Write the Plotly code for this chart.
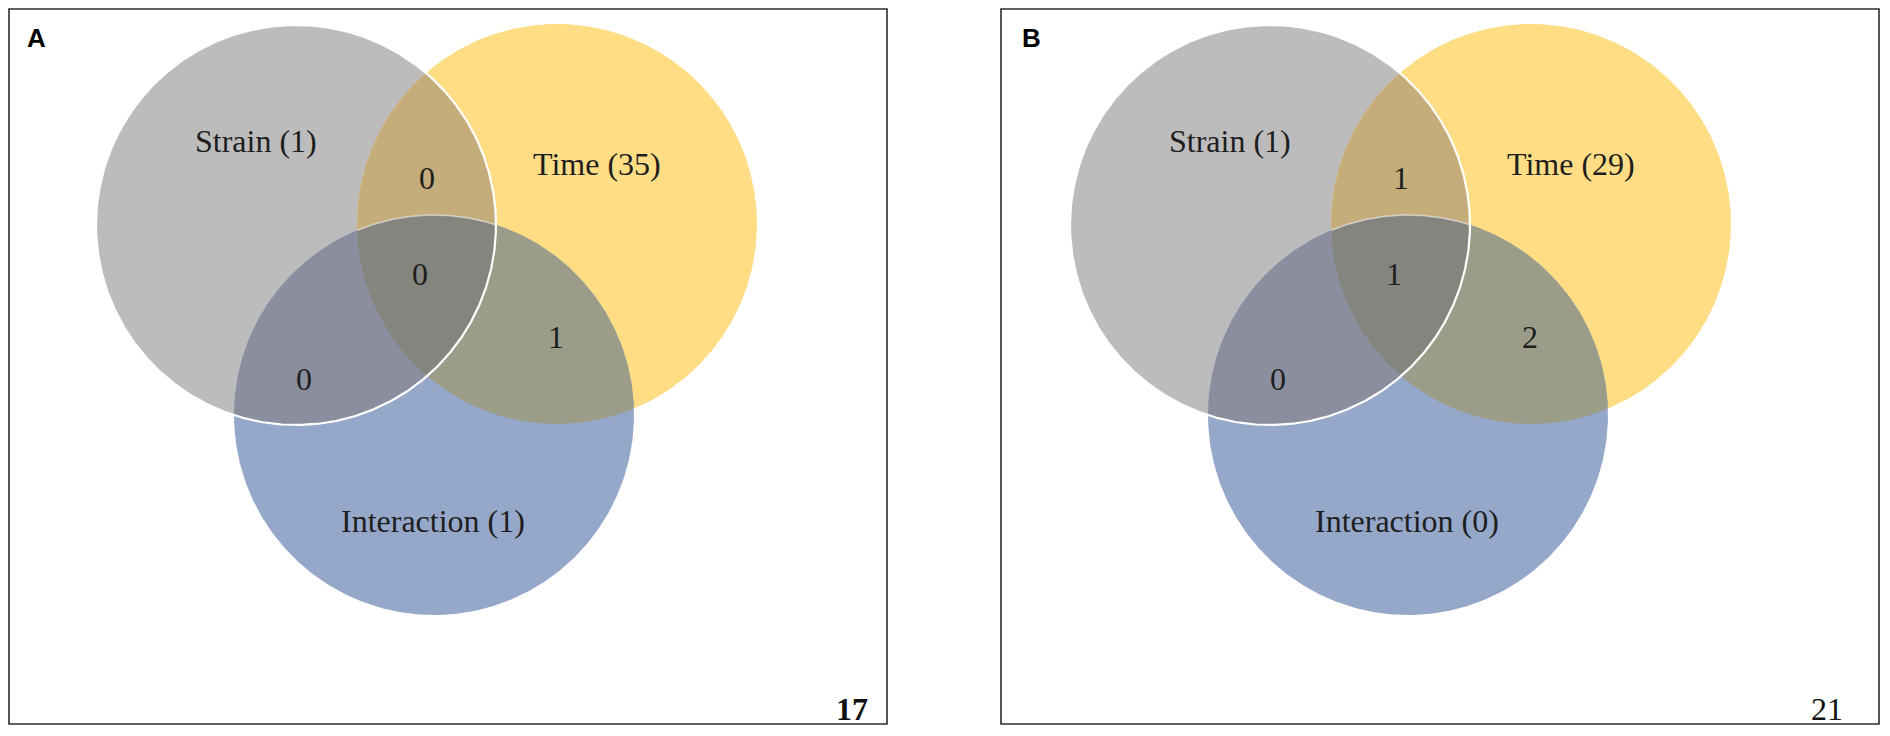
import numpy as np
import plotly.graph_objects as go

# ---------------- data ----------------
panel_letters = ["A", "B"]
set_names = ["Strain", "Time", "Interaction"]
totals_A = [1, 35, 1]          # Strain, Time, Interaction
totals_B = [1, 29, 0]
# region counts: S∩T only, S∩T∩I, T∩I only, S∩I only
pairs_A = [0, 0, 1, 0]
pairs_B = [1, 1, 2, 0]
outside_A = 17
outside_B = 21

# ---------------- layout (pixel geometry, y downward) ----------------
W, H = 1890, 736
R = 200
base_centers = [(296, 225), (557, 224), (434, 415)]          # S, T, I for panel A
label_pos = [(256, 141), (597, 164), (433, 521)]
region_pos = [(427, 178), (420, 274), (556, 337), (304, 379)]
outside_pos = (852, 709)
letter_pos = (36.5, 37.5)
panels = [
    dict(letter=panel_letters[0], totals=totals_A, regions=pairs_A, outside=outside_A,
         dx=0, box=(9, 9, 887, 724), ldx=0, bold_out=True),
    dict(letter=panel_letters[1], totals=totals_B, regions=pairs_B, outside=outside_B,
         dx=974, box=(1001, 9, 1879, 724), ldx=994.5, bold_out=False),
]

col_single = ["#bdbcbd", "#fedd85", "#95a8ca"]
col_ST = "#c4ad7a"
col_SI = "#8a8e9e"
col_TI = "#9b9d89"
col_STI = "#858580"

FONT = "Liberation Serif, Times New Roman, serif"
TXT = "#1e1e1e"


def circle_pts(c, n=720):
    t = np.linspace(0, 2 * np.pi, n, endpoint=False)
    return np.c_[c[0] + R * np.cos(t), c[1] + R * np.sin(t)]


def intersection_poly(cs):
    pts = []
    for i, c in enumerate(cs):
        p = circle_pts(c)
        keep = np.ones(len(p), bool)
        for j, o in enumerate(cs):
            if j != i:
                keep &= np.hypot(p[:, 0] - o[0], p[:, 1] - o[1]) <= R + 0.01
        pts.append(p[keep])
    p = np.vstack(pts)
    m = p.mean(axis=0)
    order = np.argsort(np.arctan2(p[:, 1] - m[1], p[:, 0] - m[0]))
    p = p[order]
    return np.vstack([p, p[:1]])


fig = go.Figure()
shapes = []
annotations = []

for pn in panels:
    dx = pn["dx"]
    cs = [(x + dx, y) for x, y in base_centers]
    S, T, I = cs
    # full circles
    for c, col in zip(cs, col_single):
        p = intersection_poly([c])
        fig.add_trace(go.Scatter(x=p[:, 0], y=p[:, 1], mode="lines", fill="toself",
                                 fillcolor=col, line=dict(width=0, color=col),
                                 hoverinfo="skip", showlegend=False))
    # lenses then triple
    for group, col in [([S, T], col_ST), ([S, I], col_SI), ([T, I], col_TI), ([S, T, I], col_STI)]:
        p = intersection_poly(group)
        fig.add_trace(go.Scatter(x=p[:, 0], y=p[:, 1], mode="lines", fill="toself",
                                 fillcolor=col, line=dict(width=0, color=col),
                                 hoverinfo="skip", showlegend=False))
    # faint outline of Interaction circle inside the S∩T lens
    p = circle_pts(I, 2000)
    inside = (np.hypot(p[:, 0] - S[0], p[:, 1] - S[1]) < R) & (np.hypot(p[:, 0] - T[0], p[:, 1] - T[1]) < R) & (p[:, 1] < I[1])
    q = p[inside]
    q = q[np.argsort(q[:, 0])]
    fig.add_trace(go.Scatter(x=q[:, 0], y=q[:, 1], mode="lines",
                             line=dict(width=1.5, color="rgba(255,255,255,0.55)"),
                             hoverinfo="skip", showlegend=False))
    # white outline of Strain circle
    p = intersection_poly([S])
    fig.add_trace(go.Scatter(x=p[:, 0], y=p[:, 1], mode="lines",
                             line=dict(width=2.2, color="white"),
                             hoverinfo="skip", showlegend=False))

    # box
    x0, y0, x1, y1 = pn["box"]
    shapes.append(dict(type="rect", xref="x", yref="y", x0=x0, y0=y0, x1=x1, y1=y1,
                       line=dict(color="#2b2b2b", width=1.6), fillcolor="rgba(0,0,0,0)", layer="above"))

    # set labels
    for name, tot, (lx, ly) in zip(set_names, pn["totals"], label_pos):
        annotations.append(dict(x=lx + dx, y=ly, xref="x", yref="y", text=f"{name} ({tot})",
                                showarrow=False, font=dict(family=FONT, size=32, color=TXT)))
    # region counts
    for val, (rx, ry) in zip(pn["regions"], region_pos):
        annotations.append(dict(x=rx + dx, y=ry, xref="x", yref="y", text=str(val),
                                showarrow=False, font=dict(family=FONT, size=32, color=TXT)))
    # outside count
    ot = f"<b>{pn['outside']}</b>" if pn["bold_out"] else str(pn["outside"])
    annotations.append(dict(x=outside_pos[0] + dx + (1 if not pn["bold_out"] else 0), y=outside_pos[1],
                            xref="x", yref="y", text=ot, showarrow=False,
                            font=dict(family=FONT, size=32, color="#111111")))
    # panel letter
    annotations.append(dict(x=letter_pos[0] + pn["ldx"], y=letter_pos[1], xref="x", yref="y",
                            text=f"<b>{pn['letter']}</b>", showarrow=False,
                            font=dict(family="Liberation Sans, Arial, sans-serif", size=26, color="#000000")))

fig.update_layout(
    width=W, height=H, autosize=False,
    margin=dict(l=0, r=0, t=0, b=0),
    paper_bgcolor="white", plot_bgcolor="white",
    xaxis=dict(range=[0, W], visible=False, fixedrange=True),
    yaxis=dict(range=[H, 0], visible=False, fixedrange=True),
    shapes=shapes, annotations=annotations, showlegend=False,
)

fig.write_html("out.html", config={"displayModeBar": False},
               post_script="document.body.style.margin='0';document.body.style.overflow='hidden';")
